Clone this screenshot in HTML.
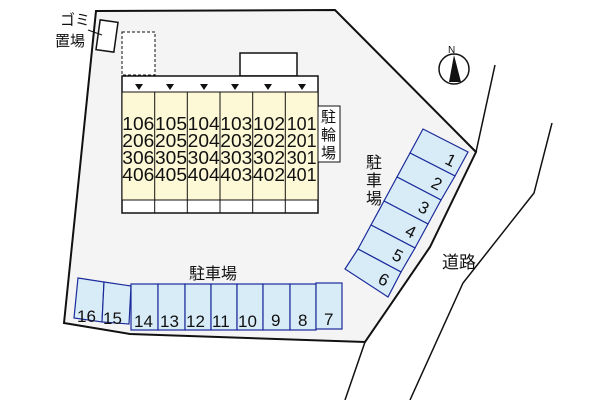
<!DOCTYPE html>
<html><head><meta charset="utf-8"><style>
body{margin:0;background:#fff}
svg text{font-family:"Liberation Sans","Noto Sans CJK JP",sans-serif;fill:#111}
</style></head><body>
<svg width="600" height="400" viewBox="0 0 600 400" xmlns="http://www.w3.org/2000/svg">
<polygon points="96,11 335,10 476,152 430,247 365,342 130,334 64,323" fill="#f4f4f4" stroke="#111" stroke-width="2"/>
<polyline points="495,65 476,152" fill="none" stroke="#111" stroke-width="1.5"/>
<polyline points="365,342 345,400" fill="none" stroke="#111" stroke-width="1.5"/>
<polyline points="552,123 534,193 463,283 410,400" fill="none" stroke="#111" stroke-width="1.5"/>
<rect x="98" y="21" width="18" height="30" transform="rotate(8 107 36)" fill="#fff" stroke="#111" stroke-width="1.5"/>
<line x1="88" y1="30" x2="102" y2="35" stroke="#111"/>
<text x="60" y="25" font-size="15">ゴミ</text>
<text x="55" y="46" font-size="15">置場</text>
<rect x="122" y="32" width="33" height="43" fill="#fff" stroke="#111" stroke-dasharray="3,2"/>
<rect x="240" y="53" width="57" height="23" fill="#fff" stroke="#111" stroke-width="1.5"/>
<rect x="122" y="76" width="196" height="137" fill="#fff" stroke="#111" stroke-width="1.5"/>
<rect x="122" y="92" width="196" height="108" fill="#fdf8d6" stroke="#111"/>
<g stroke="#111">
<line x1="154.7" y1="92" x2="154.7" y2="213"/><line x1="187.3" y1="92" x2="187.3" y2="213"/>
<line x1="220" y1="92" x2="220" y2="213"/><line x1="252.7" y1="92" x2="252.7" y2="213"/>
<line x1="285.3" y1="92" x2="285.3" y2="213"/>
</g>
<g fill="#111">
<polygon points="135,84 143,84 139,90"/><polygon points="166,84 174,84 170,90"/>
<polygon points="200,84 208,84 204,90"/><polygon points="231,84 239,84 235,90"/>
<polygon points="264,84 272,84 268,90"/><polygon points="298,84 306,84 302,90"/>
</g>
<g font-size="18" text-anchor="middle">
<text x="138.3" y="130" textLength="32" lengthAdjust="spacingAndGlyphs">106</text><text x="171" y="130" textLength="32" lengthAdjust="spacingAndGlyphs">105</text><text x="203.7" y="130" textLength="32" lengthAdjust="spacingAndGlyphs">104</text><text x="236.3" y="130" textLength="32" lengthAdjust="spacingAndGlyphs">103</text><text x="269" y="130" textLength="32" lengthAdjust="spacingAndGlyphs">102</text><text x="301.7" y="130" textLength="30" lengthAdjust="spacingAndGlyphs">101</text>
<text x="138.3" y="147" textLength="32" lengthAdjust="spacingAndGlyphs">206</text><text x="171" y="147" textLength="32" lengthAdjust="spacingAndGlyphs">205</text><text x="203.7" y="147" textLength="32" lengthAdjust="spacingAndGlyphs">204</text><text x="236.3" y="147" textLength="32" lengthAdjust="spacingAndGlyphs">203</text><text x="269" y="147" textLength="32" lengthAdjust="spacingAndGlyphs">202</text><text x="301.7" y="147" textLength="30" lengthAdjust="spacingAndGlyphs">201</text>
<text x="138.3" y="164" textLength="32" lengthAdjust="spacingAndGlyphs">306</text><text x="171" y="164" textLength="32" lengthAdjust="spacingAndGlyphs">305</text><text x="203.7" y="164" textLength="32" lengthAdjust="spacingAndGlyphs">304</text><text x="236.3" y="164" textLength="32" lengthAdjust="spacingAndGlyphs">303</text><text x="269" y="164" textLength="32" lengthAdjust="spacingAndGlyphs">302</text><text x="301.7" y="164" textLength="30" lengthAdjust="spacingAndGlyphs">301</text>
<text x="138.3" y="181" textLength="32" lengthAdjust="spacingAndGlyphs">406</text><text x="171" y="181" textLength="32" lengthAdjust="spacingAndGlyphs">405</text><text x="203.7" y="181" textLength="32" lengthAdjust="spacingAndGlyphs">404</text><text x="236.3" y="181" textLength="32" lengthAdjust="spacingAndGlyphs">403</text><text x="269" y="181" textLength="32" lengthAdjust="spacingAndGlyphs">402</text><text x="301.7" y="181" textLength="30" lengthAdjust="spacingAndGlyphs">401</text>
</g>
<rect x="318" y="106" width="22" height="56" fill="#fff" stroke="#111"/>
<text x="321" y="122" font-size="15">駐</text><text x="321" y="140" font-size="15">輪</text><text x="321" y="158" font-size="15">場</text>
<text x="366" y="168" font-size="16">駐</text><text x="366" y="186" font-size="16">車</text><text x="366" y="204" font-size="16">場</text>
<text x="189" y="279" font-size="16">駐車場</text>
<text x="442" y="268" font-size="17">道路</text>
<circle cx="454" cy="69" r="15" fill="#fff" stroke="#111" stroke-width="1.5"/>
<polygon points="454,55 449,82 461,82" fill="#111"/>
<text x="448" y="53" font-size="10">N</text>
<g fill="#d8ecf8" stroke="#1a2a9a" stroke-width="1.2">
<polygon points="423,129 468,152 455,176 410,153"/>
<polygon points="410,153 455,176 441,200 397,177"/>
<polygon points="397,177 441,200 428,224 384,201"/>
<polygon points="384,201 428,224 415,248 371,225"/>
<polygon points="371,225 415,248 401,272 358,249"/>
<polygon points="358,249 401,272 388,297 345,269"/>
</g>
<g font-size="17">
<text x="446" y="166" transform="rotate(27 451 160)">1</text>
<text x="432" y="190" transform="rotate(27 438 184)">2</text>
<text x="419" y="214" transform="rotate(27 425 208)">3</text>
<text x="406" y="238" transform="rotate(27 412 232)">4</text>
<text x="393" y="262" transform="rotate(27 399 256)">5</text>
<text x="379" y="286" transform="rotate(27 385 280)">6</text>
</g>
<g fill="#d8ecf8" stroke="#1a2a9a" stroke-width="1.2">
<polygon points="78,278 104,282 102,322 74,318"/>
<polygon points="104,282 131,286 129,324 102,322"/>
<rect x="131" y="284" width="27" height="46"/><rect x="158" y="284" width="27" height="46"/>
<rect x="185" y="284" width="26" height="46"/><rect x="211" y="284" width="26" height="46"/>
<rect x="237" y="284" width="26" height="46"/><rect x="263" y="284" width="27" height="46"/>
<rect x="290" y="284" width="26" height="46"/><rect x="316" y="283" width="26" height="46"/>
</g>
<g font-size="17">
<text x="77" y="322">16</text><text x="103" y="324">15</text>
<text x="134" y="327">14</text><text x="160" y="327">13</text><text x="186" y="327">12</text>
<text x="212" y="327">11</text><text x="238" y="327">10</text><text x="271" y="326">9</text>
<text x="298" y="326">8</text><text x="324" y="325">7</text>
</g>
</svg>
</body></html>
